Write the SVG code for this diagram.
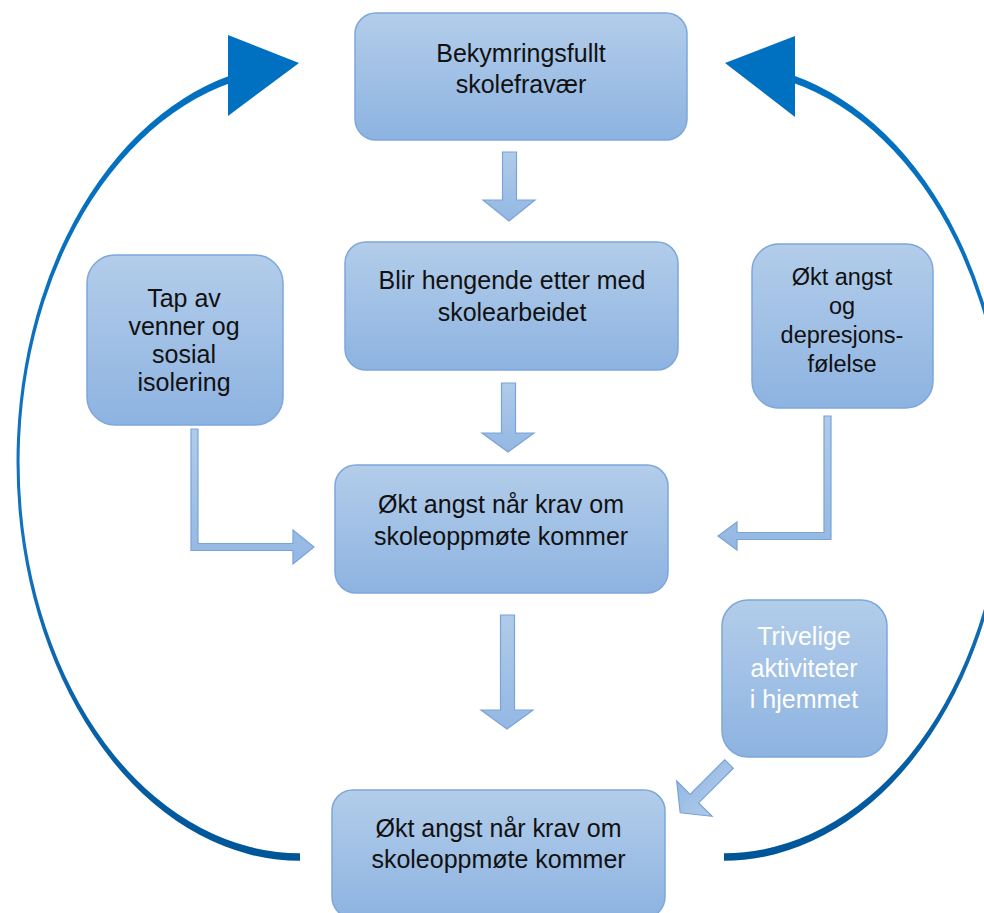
<svg xmlns="http://www.w3.org/2000/svg" width="984" height="913" viewBox="0 0 984 913">
<style>
.box{fill:url(#boxGrad);stroke:#7ea7db;stroke-width:1.5}
.blk{fill:url(#arrGrad);stroke:#7aa3d8;stroke-width:1.2;stroke-linejoin:miter}
.t{font-family:"Liberation Sans",Arial,sans-serif;font-size:25px;fill:#111;text-anchor:middle}
.ts{font-size:23.5px}
.w{fill:#ffffff}
.cyc{fill:url(#cycGrad)}
.head{fill:#0070C0}
</style>
<defs>
<linearGradient id="boxGrad" x1="0" y1="0" x2="0" y2="1">
<stop offset="0" stop-color="#b3cdea"/>
<stop offset="1" stop-color="#8db3e1"/>
</linearGradient>
<linearGradient id="arrGrad" x1="0" y1="0" x2="0" y2="1">
<stop offset="0" stop-color="#b0cbea"/>
<stop offset="1" stop-color="#93b8e3"/>
</linearGradient>
<linearGradient id="cycGrad" gradientUnits="userSpaceOnUse" x1="0" y1="60" x2="0" y2="862">
<stop offset="0" stop-color="#0070C0"/>
<stop offset="0.6" stop-color="#1472bf"/>
<stop offset="1" stop-color="#005597"/>
</linearGradient>
</defs>

<g id="connectors">
<g id="cycle-left">
<path class="cyc" d="M300,860.75 A283.5 398.75 0 0 1 231.7,75 L232.4,82.3 A280.5 391.25 0 0 0 300,853.25 Z"/>
<polygon class="head" points="228,35 228,116 299,63"/>
</g>
<g id="cycle-right">
<path class="cyc" d="M724,860.75 A283.5 398.75 0 0 0 792.3,75 L791.6,82.3 A280.5 391.25 0 0 1 724,853.25 Z"/>
<polygon class="head" points="795,36 795,117 725,63"/>
</g>
<polygon id="a1" class="blk" points="502.5,152 516.5,152 516.5,200 535,200 509,221 483,200 502.5,200"/>
<polygon id="a2" class="blk" points="501.5,383 515.5,383 515.5,433 534,433 508,452 482,433 501.5,433"/>
<polygon id="a3" class="blk" points="500.5,615 514.5,615 514.5,710 533,710 507,729 481,710 500.5,710"/>
<polygon id="a-left" class="blk" points="191,429 198,429 198,543.5 293,543.5 293,530 314,547 293,564 293,550.5 191,550.5"/>
<polygon id="a-right" class="blk" points="824,416 831,416 831,539.5 737,539.5 737,550 718,536 737,522 737,532.5 824,532.5"/>
<polygon id="a-diag" class="blk" transform="translate(729,764) rotate(135)" points="0,-6 49,-6 49,-25 69,0 49,25 49,6 0,6"/>
</g>

<g id="n1">
<rect class="box" x="355" y="13" width="332" height="127" rx="21"/>
<text class="t" x="521" y="62">Bekymringsfullt</text>
<text class="t" x="521" y="93">skolefravær</text>
</g>
<g id="n2">
<rect class="box" x="345" y="242" width="333" height="128" rx="21"/>
<text class="t" x="512" y="289">Blir hengende etter med</text>
<text class="t" x="512" y="321">skolearbeidet</text>
</g>
<g id="n3">
<rect class="box" x="335" y="465" width="333" height="128" rx="21"/>
<text class="t" x="501" y="513">Økt angst når krav om</text>
<text class="t" x="501" y="545">skoleoppmøte kommer</text>
</g>
<g id="n4">
<rect class="box" x="332" y="790" width="333" height="128" rx="21"/>
<text class="t" x="498.5" y="837">Økt angst når krav om</text>
<text class="t" x="498.5" y="868">skoleoppmøte kommer</text>
</g>
<g id="n5">
<rect class="box" x="87" y="255" width="196" height="170" rx="28"/>
<text class="t" x="184" y="307">Tap av</text>
<text class="t" x="184" y="335">venner og</text>
<text class="t" x="184" y="363">sosial</text>
<text class="t" x="184" y="391">isolering</text>
</g>
<g id="n6">
<rect class="box" x="752" y="244" width="181" height="164" rx="27"/>
<text class="t ts" x="842" y="285">Økt angst</text>
<text class="t ts" x="842" y="314">og</text>
<text class="t ts" x="842" y="343">depresjons-</text>
<text class="t ts" x="842" y="372">følelse</text>
</g>
<g id="n7">
<rect class="box" x="722" y="600" width="165" height="157" rx="26"/>
<text class="t w" x="804" y="645">Trivelige</text>
<text class="t w" x="804" y="677">aktiviteter</text>
<text class="t w" x="804" y="708">i hjemmet</text>
</g>
</svg>
